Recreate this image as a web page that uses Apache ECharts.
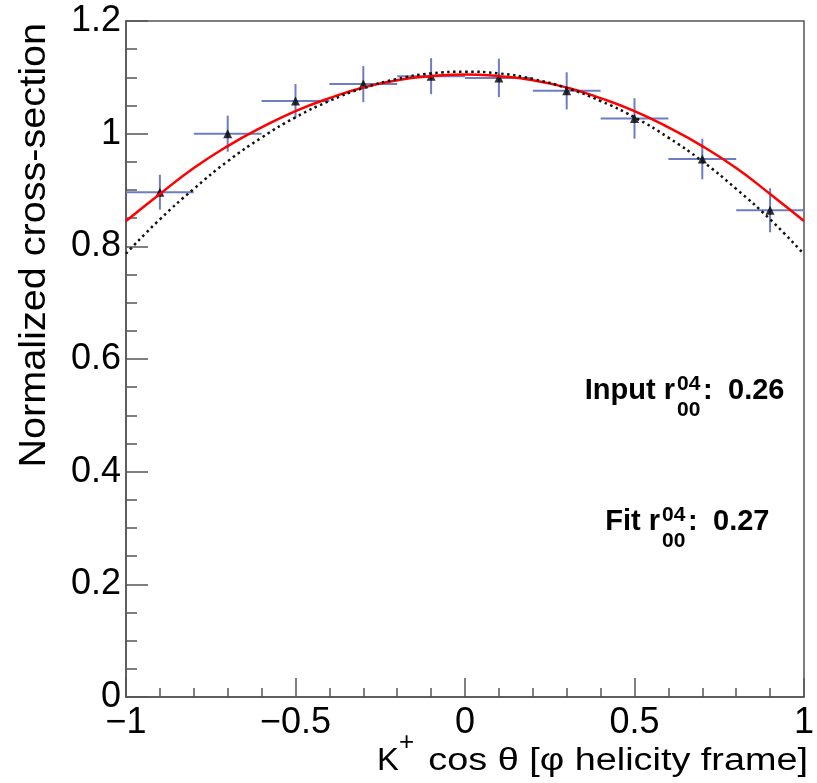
<!DOCTYPE html>
<html><head><meta charset="utf-8">
<script src="https://cdn.jsdelivr.net/npm/echarts@6/dist/echarts.min.js"></script>
<style>html,body{margin:0;padding:0;background:#fff}#c{width:817px;height:783px}</style>
</head><body><div id="c"></div>
<script>
// ---- data ----
const binCenters   = [-0.9, -0.7, -0.5, -0.3, -0.1, 0.1, 0.3, 0.5, 0.7, 0.9];
const xsecValues   = [0.896, 1.000, 1.058, 1.088, 1.102, 1.099, 1.076, 1.027, 0.955, 0.864];
const xsecErrors   = [0.031, 0.032, 0.030, 0.032, 0.032, 0.034, 0.033, 0.036, 0.036, 0.039];
const binHalfWidth = [0.1, 0.1, 0.1, 0.1, 0.1, 0.1, 0.1, 0.1, 0.1, 0.1];

const curveX      = [-1, -0.9, -0.8, -0.7, -0.6, -0.5, -0.4, -0.3, -0.2, -0.1, 0, 0.1, 0.2, 0.3, 0.4, 0.5, 0.6, 0.7, 0.8, 0.9, 1];
const fitCurve    = [0.845, 0.893, 0.939, 0.978, 1.011, 1.040, 1.063, 1.082, 1.095, 1.102, 1.105, 1.102, 1.095, 1.082, 1.063, 1.040, 1.011, 0.978, 0.939, 0.893, 0.845];
const inputCurve  = [0.787, 0.848, 0.902, 0.951, 0.993, 1.029, 1.058, 1.081, 1.097, 1.107, 1.110, 1.107, 1.097, 1.081, 1.058, 1.029, 0.993, 0.951, 0.902, 0.848, 0.786];

const xTickLabels = ['\u22121', '\u22120.5', '0', '0.5', '1'];
const yTickLabels = ['0', '0.2', '0.4', '0.6', '0.8', '1', '1.2'];

const inputLabel = 'Input r', inputValue = '0.26';
const fitLabel = 'Fit r', fitValue = '0.27';
const rSup = '04', rSub = '00';

// ---- chart ----
const FONT = '"Liberation Sans", Arial, Helvetica, sans-serif';
const AX = '#555';
const chart = echarts.init(document.getElementById('c'), null, {renderer: 'canvas'});

const errData = binCenters.map((x, i) => [x, xsecValues[i], xsecErrors[i], binHalfWidth[i]]);
const ptData = binCenters.map((x, i) => [x, xsecValues[i]]);
const fitData = curveX.map((x, i) => [x, fitCurve[i]]);
const inpData = curveX.map((x, i) => [x, inputCurve[i]]);

function txt(x, y, text, size, opts) {
  opts = opts || {};
  return {
    type: 'text', x: x, y: y, silent: true,
    rotation: opts.rotation || 0,
    scaleX: opts.scaleX || 1,
    z: 100,
    style: {
      text: text, fill: '#000', fontSize: size, fontFamily: FONT,
      fontWeight: opts.bold ? 'bold' : 'normal',
      align: opts.align || 'left', verticalAlign: 'middle'
    }
  };
}

const option = {
  animation: false,
  backgroundColor: '#fff',
  grid: {left: 126, top: 21, right: 5, bottom: 86, show: true, borderColor: AX, borderWidth: 1.5, backgroundColor: 'transparent'},
  xAxis: {
    type: 'value', min: -1, max: 1, interval: 0.5,
    axisLine: {show: true, onZero: false, lineStyle: {color: AX, width: 1.5}},
    axisTick: {show: true, inside: true, length: 19, lineStyle: {color: AX, width: 1.5}},
    minorTick: {show: true, splitNumber: 5, length: 9, lineStyle: {color: AX, width: 1.5}},
    splitLine: {show: false},
    axisLabel: {
      show: true, margin: 8, fontSize: 36, fontFamily: FONT, color: '#000',
      showMinLabel: true, showMaxLabel: true,
      formatter: v => xTickLabels[Math.round((v + 1) / 0.5)]
    }
  },
  yAxis: {
    type: 'value', min: 0, max: 1.2, interval: 0.2,
    axisLine: {show: true, onZero: false, lineStyle: {color: AX, width: 1.5}},
    axisTick: {show: true, inside: true, length: 22, lineStyle: {color: AX, width: 1.5}},
    minorTick: {show: true, splitNumber: 4, length: 11, lineStyle: {color: AX, width: 1.5}},
    splitLine: {show: false},
    axisLabel: {
      show: true, margin: 5, fontSize: 36, fontFamily: FONT, color: '#000',
      showMinLabel: true, showMaxLabel: true,
      formatter: v => yTickLabels[Math.round(v / 0.2)]
    }
  },
  series: [
    {
      type: 'custom', name: 'errors', data: errData, z: 2,
      renderItem: function (params, api) {
        const x = api.value(0), y = api.value(1), ey = api.value(2), ex = api.value(3);
        const l = api.coord([x - ex, y]), r = api.coord([x + ex, y]);
        const t = api.coord([x, y + ey]), b = api.coord([x, y - ey]);
        const st = {stroke: '#6e7cc4', lineWidth: 2};
        return {type: 'group', children: [
          {type: 'line', shape: {x1: l[0], y1: l[1], x2: r[0], y2: r[1]}, style: st},
          {type: 'line', shape: {x1: t[0], y1: t[1], x2: b[0], y2: b[1]}, style: st}
        ]};
      }
    },
    {
      type: 'scatter', name: 'data', data: ptData, z: 3,
      symbol: 'triangle', symbolSize: 9,
      itemStyle: {color: '#000'}
    },
    {
      type: 'line', name: 'fit', data: fitData, z: 4, smooth: true, showSymbol: false,
      lineStyle: {color: '#ff0000', width: 2.5}
    },
    {
      type: 'line', name: 'input', data: inpData, z: 5, smooth: true, showSymbol: false,
      lineStyle: {color: '#111', width: 2.5, type: [2.5, 3.5]}
    }
  ],
  graphic: [
    txt(35, 23, 'Normalized cross-section', 36, {rotation: Math.PI / 2, align: 'right', scaleX: 1.1}),
    txt(377, 761, 'K', 31, {scaleX: 1.06}),
    txt(399, 743, '+', 26),
    txt(808, 761, 'cos \u03b8 [\u03c6 helicity frame]', 31, {align: 'right', scaleX: 1.22}),
    txt(675, 391, inputLabel, 29, {bold: true, align: 'right'}),
    txt(677, 384, rSup, 21, {bold: true}),
    txt(677, 410, rSub, 21, {bold: true}),
    txt(703, 391, ':', 29, {bold: true}),
    txt(728, 391, inputValue, 29, {bold: true}),
    txt(660, 522, fitLabel, 29, {bold: true, align: 'right'}),
    txt(662, 515, rSup, 21, {bold: true}),
    txt(662, 541, rSub, 21, {bold: true}),
    txt(688, 522, ':', 29, {bold: true}),
    txt(713, 522, fitValue, 29, {bold: true})
  ]
};
chart.setOption(option);
</script>
</body></html>
